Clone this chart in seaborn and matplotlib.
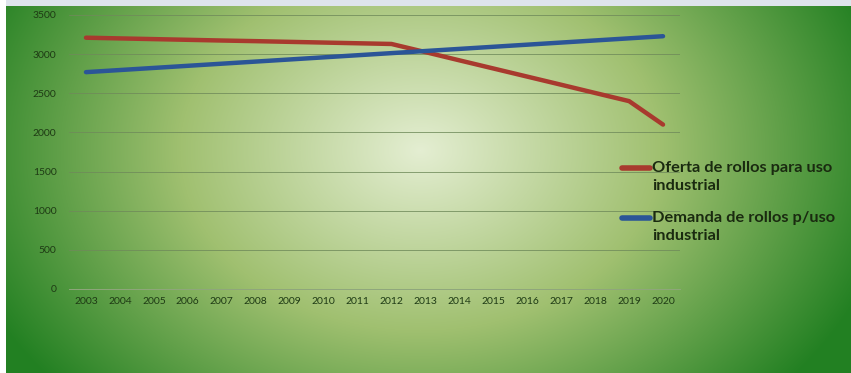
import numpy as np
import pandas as pd
import matplotlib
matplotlib.use("Agg")
import matplotlib.pyplot as plt
from matplotlib.lines import Line2D
import seaborn as sns

years = list(range(2003, 2021))
oferta = [3210, 3201, 3192, 3183, 3174, 3166, 3157, 3148, 3139, 3130,
          3026, 2921, 2817, 2713, 2609, 2504, 2400, 2100]
demanda = [2770, 2797, 2824, 2851, 2878, 2905, 2932, 2959, 2986, 3013,
           3040, 3067, 3094, 3121, 3148, 3175, 3202, 3229]
series_names = ["Oferta de rollos para uso\nindustrial",
                "Demanda de rollos p/uso\nindustrial"]
series_colors = ["#a83a2e", "#2b5597"]
y_ticks = [0, 500, 1000, 1500, 2000, 2500, 3000, 3500]

df = pd.DataFrame({
    "year": years * 2,
    "value": oferta + demanda,
    "serie": [series_names[0]] * len(years) + [series_names[1]] * len(years),
})
df["pos"] = df["year"] - years[0]

sns.set_theme(style="white")
plt.rcParams["font.family"] = ["Lato", "DejaVu Sans"]

W, H = 851, 373
fig = plt.figure(figsize=(W / 100, H / 100), dpi=100)

# green radial background, light centre fading to dark green
bg = fig.add_axes([0, 0, 1, 1], zorder=0)
yy, xx = np.mgrid[0:H, 0:W]
t = np.sqrt(((xx - 420) / 480.0) ** 2 + ((yy - 150) / 360.0) ** 2)
t = np.clip(t, 0, 1)
stops_t = [0.0, 0.5, 1.0]
stops_c = np.array([[228, 238, 210], [160, 192, 112], [34, 128, 34]]) / 255.0
img = np.stack([np.interp(t, stops_t, stops_c[:, k]) for k in range(3)], axis=-1)
img[:6, :, :] = np.array([222, 228, 236]) / 255.0
img[:, :6, :] = 1.0
bg.imshow(img, aspect="auto", extent=[0, W, H, 0])
bg.set_axis_off()

ax = fig.add_axes([69 / W, 1 - 289 / H, 611 / W, 274 / H], zorder=1)
ax.patch.set_alpha(0)

sns.lineplot(data=df, x="pos", y="value", hue="serie", hue_order=series_names,
             palette=series_colors, linewidth=3.2, ax=ax, legend=False)

ax.set_xlim(-0.5, len(years) - 0.5)
ax.set_ylim(0, 3500)
ax.set_xticks(range(len(years)))
ax.set_xticklabels([str(y) for y in years])
ax.set_yticks(y_ticks)
ax.set_yticklabels([str(v) for v in y_ticks])
ax.tick_params(axis="both", labelsize=7.5, colors="#1e3a14", length=0)
ax.tick_params(axis="y", pad=9)
ax.tick_params(axis="x", pad=6)
ax.grid(axis="y", color="#6f8a5a", linewidth=0.7, alpha=0.8)
ax.set_xlabel("")
ax.set_ylabel("")
for side in ["top", "right", "left"]:
    ax.spines[side].set_visible(False)
ax.spines["bottom"].set_color("#8fa67c")
ax.spines["bottom"].set_linewidth(0.7)

# legend drawn by hand: handle aligned with first text line, as in Excel
leg_rows = [168, 218]
for name, color, row in zip(series_names, series_colors, leg_rows):
    yf = 1 - row / H
    fig.add_artist(Line2D([622 / W, 650 / W], [yf, yf], color=color,
                          linewidth=4, transform=fig.transFigure))
    first, second = name.split("\n")
    fig.text(652 / W, yf, first, fontsize=11.8, fontweight="bold",
             color="#1a2a10", va="center", ha="left")
    fig.text(652 / W, 1 - (row + 18) / H, second, fontsize=11.8,
             fontweight="bold", color="#1a2a10", va="center", ha="left")

fig.savefig("out.png", dpi=100)
